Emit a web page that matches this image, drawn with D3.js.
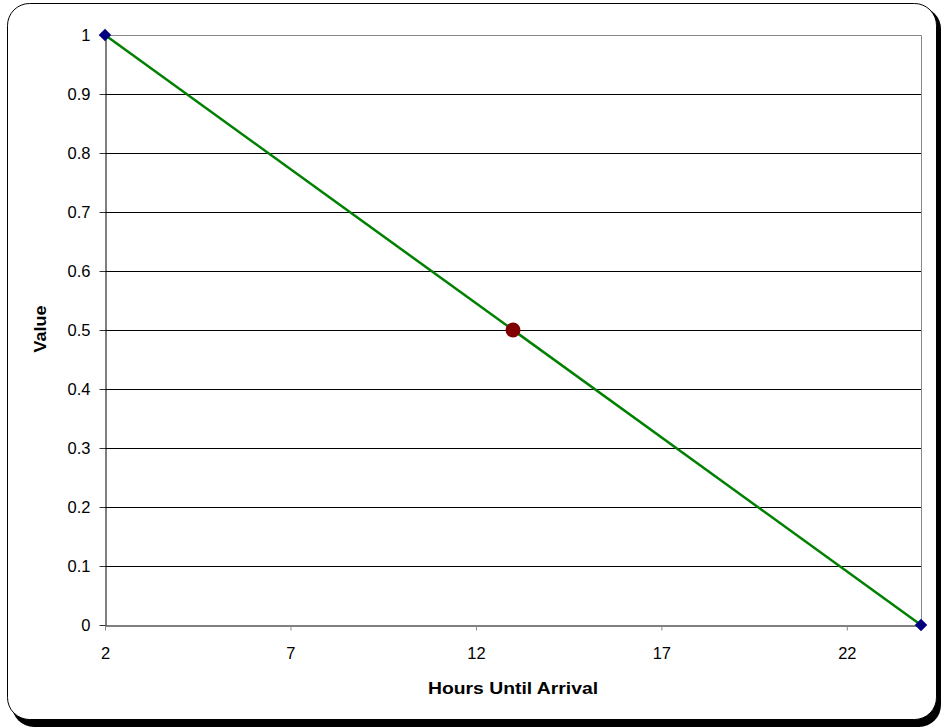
<!DOCTYPE html>
<html>
<head>
<meta charset="utf-8">
<script src="https://cdn.jsdelivr.net/npm/d3@7"></script>
<style>
  body { margin: 0; background: #fff; }
  text { font-family: "Liberation Sans", Arial, sans-serif; }
</style>
</head>
<body>
<div id="chart"></div>
<script>
const lineHours = [2, 24];
const lineValues = [1, 0];
const pointHours = [13];
const pointValues = [0.5];
const xTicks = [2, 7, 12, 17, 22];
const yTicks = [0, 0.1, 0.2, 0.3, 0.4, 0.5, 0.6, 0.7, 0.8, 0.9, 1];

const width = 941;
const height = 727;
const margin = { top: 35, right: 20, bottom: 102, left: 105 };

const svg = d3.select('#chart')
              .append('svg')
              .attr('width', width)
              .attr('height', height);

// frame with shadow
svg.append('rect')
   .attr('x', 12).attr('y', 7)
   .attr('width', 929).attr('height', 720)
   .attr('rx', 22)
   .attr('fill', '#000');
svg.append('rect')
   .attr('x', 7.5).attr('y', 3.5)
   .attr('width', 929).attr('height', 716)
   .attr('rx', 22)
   .attr('fill', '#fff')
   .attr('stroke', '#000')
   .attr('stroke-width', 1);

const xScale = d3.scaleLinear()
                 .domain([2, 24])
                 .range([margin.left, width - margin.right]);

const yScale = d3.scaleLinear()
                 .domain([0, 1])
                 .range([height - margin.bottom, margin.top]);

// gridlines
svg.append('g')
   .selectAll('line')
   .data(yTicks.filter(d => d > 0 && d < 1))
   .join('line')
   .attr('x1', margin.left)
   .attr('x2', width - margin.right)
   .attr('y1', d => Math.round(yScale(d)) + 0.5)
   .attr('y2', d => Math.round(yScale(d)) + 0.5)
   .attr('stroke', '#000');

// plot border (top/right grey)
svg.append('path')
   .attr('d', `M${margin.left},${margin.top + 0.5}H${width - margin.right + 0.5}V${height - margin.bottom}`)
   .attr('fill', 'none')
   .attr('stroke', '#888');

const xAxis = d3.axisBottom(xScale)
                .tickValues(xTicks)
                .tickSize(5)
                .tickSizeOuter(0)
                .tickPadding(17);

const yAxis = d3.axisLeft(yScale)
                .tickValues(yTicks)
                .tickFormat(d3.format('~g'))
                .tickSize(6)
                .tickSizeOuter(0)
                .tickPadding(9);

const gx = svg.append('g')
   .attr('transform', 'translate(0, ' + (height - margin.bottom + 0.5) + ')')
   .call(xAxis);

const gy = svg.append('g')
   .attr('transform', 'translate(' + (margin.left + 0.5) + ', 0)')
   .call(yAxis);

[gx, gy].forEach(g => {
  g.select('.domain').attr('stroke', '#000');
  g.selectAll('.tick line').attr('stroke', '#333');
  g.selectAll('text').attr('font-size', 16.5).attr('fill', '#000')
   .style('font-family', '"Liberation Sans", Arial, sans-serif');
});
gx.selectAll('.tick line').attr('stroke', '#888');

// line
const lineData = lineHours.map((h, i) => [h, lineValues[i]]);
svg.append('path')
   .datum(lineData)
   .attr('fill', 'none')
   .attr('stroke', '#008000')
   .attr('stroke-width', 2.5)
   .attr('d', d3.line().x(d => xScale(d[0])).y(d => yScale(d[1])));

svg.append('g')
   .selectAll('path')
   .data(lineData)
   .join('path')
   .attr('transform', d => `translate(${xScale(d[0])},${yScale(d[1])})`)
   .attr('d', d3.symbol(d3.symbolDiamond2, 100))
   .attr('fill', '#000080');

svg.append('g')
   .selectAll('circle')
   .data(pointHours.map((h, i) => [h, pointValues[i]]))
   .join('circle')
   .attr('cx', d => xScale(d[0]))
   .attr('cy', d => yScale(d[1]))
   .attr('r', 7.5)
   .attr('fill', '#800000');

// axis titles
svg.append('text')
   .attr('x', 513)
   .attr('y', 694)
   .attr('text-anchor', 'middle')
   .attr('font-size', 16)
   .attr('font-weight', 'bold')
   .attr('textLength', 170)
   .attr('lengthAdjust', 'spacingAndGlyphs')
   .text('Hours Until Arrival');

svg.append('text')
   .attr('transform', 'translate(46, 329) rotate(-90)')
   .attr('text-anchor', 'middle')
   .attr('font-size', 16)
   .attr('font-weight', 'bold')
   .attr('textLength', 47)
   .attr('lengthAdjust', 'spacingAndGlyphs')
   .text('Value');
</script>
</body>
</html>
